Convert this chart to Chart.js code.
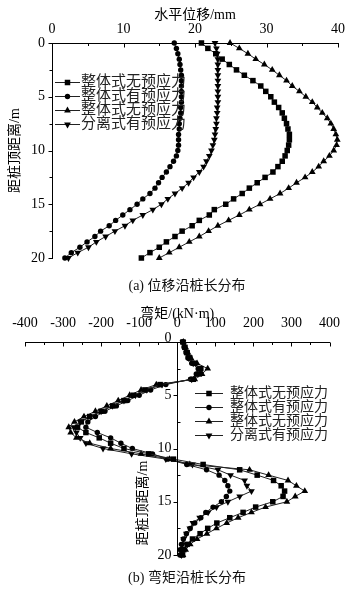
<!DOCTYPE html>
<html><head><meta charset="utf-8">
<script src="https://cdn.jsdelivr.net/npm/chart.js@4.4.1/dist/chart.umd.min.js"></script>
<style>
html,body{margin:0;padding:0;background:#fff;}
#wrap{position:relative;width:350px;height:590px;overflow:hidden;background:#fff;}
canvas{position:absolute;left:0;}
#ca{top:0;} #cb{top:295px;}
.cap{position:absolute;left:12px;width:350px;text-align:center;font-family:"Liberation Serif","Noto Sans CJK SC",serif;font-size:14px;color:#111;line-height:16px;}
</style></head><body>
<div id="wrap">
<canvas id="ca" width="350" height="295"></canvas>
<canvas id="cb" width="350" height="295"></canvas>
<div class="cap" style="top:278px">(a) 位移沿桩长分布</div>
<div class="cap" style="top:570px">(b) 弯矩沿桩长分布</div>
</div>
<script>
// ---------- data ----------
const depth = [0,0.5,1,1.5,2,2.5,3,3.5,4,4.5,5,5.5,6,6.5,7,7.5,8,8.5,9,9.5,10,10.5,11,11.5,12,12.5,13,13.5,14,14.5,15,15.5,16,16.5,17,17.5,18,18.5,19,19.5,20];
const seriesNames = ['整体式无预应力','整体式有预应力','整体式无预应力','分离式有预应力'];

// (a) horizontal displacement, mm
const dispS1 = [20.9,21.8,22.9,23.8,24.8,25.8,26.9,28.1,29.2,29.9,30.6,31.1,31.7,32.2,32.5,32.8,33.0,33.2,33.2,33.1,32.9,32.6,32.2,31.6,30.9,29.8,28.7,27.6,26.6,25.4,24.3,22.7,22.0,20.6,19.6,18.2,17.2,16.0,15.0,13.7,12.5];
const dispS2 = [17.1,17.4,17.6,17.8,17.9,18.0,18.1,18.1,18.1,18.1,18.1,18.1,18.0,18.0,17.9,17.8,17.8,17.7,17.7,17.7,17.6,17.4,17.0,16.5,16.0,15.4,14.9,14.4,13.7,12.7,11.9,10.9,9.9,8.9,8.0,6.8,6.0,4.9,3.9,2.7,1.8];
const dispS3 = [24.9,26.2,27.4,28.5,29.7,30.8,31.8,32.8,33.6,34.6,35.5,36.4,37.1,37.8,38.5,39.0,39.4,39.7,39.9,39.8,39.4,38.8,38.0,37.3,36.4,35.4,34.2,33.1,31.9,30.5,29.1,27.6,26.2,24.7,23.2,21.9,20.6,19.2,17.8,16.4,15.0];
const dispS4 = [22.8,23.0,23.1,23.2,23.2,23.2,23.2,23.2,23.2,23.2,23.2,23.2,23.1,23.1,23.0,23.0,22.9,22.8,22.7,22.5,22.3,22.0,21.6,21.2,20.6,19.8,19.1,18.2,17.2,16.2,15.3,14.1,12.7,11.3,10.2,8.8,7.5,6.2,5.1,3.6,2.3];

// (b) bending moment, kN·m
const momS1 = [15,20,26,33,45,62,58,42,-45,-85,-115,-140,-170,-200,-230,-252,-262,-240,-205,-175,-140,-75,-10,68,164,210,253,273,282,278,251,206,173,138,104,80,60,40,26,17,14];
const momS2 = [14,18,23,28,38,55,50,35,-30,-70,-100,-130,-160,-190,-215,-235,-240,-210,-175,-148,-118,-65,-25,25,77,110,125,133,138,129,116,94,75,62,46,34,24,16,11,8,7];
const momS3 = [16,22,28,36,52,80,65,46,-55,-95,-125,-155,-185,-215,-245,-270,-285,-280,-265,-230,-175,-95,-20,33,190,240,291,313,335,310,288,232,195,160,130,103,78,52,34,22,15];
const momS4 = [15,19,24,30,42,60,55,38,-40,-80,-110,-140,-170,-200,-228,-255,-272,-265,-255,-240,-195,-120,-30,40,107,140,177,183,195,164,133,103,81,59,41,33,24,17,14,11,11];

// tick values
const dispXTicks = [0,10,20,30,40];
const dispXMinor = [5,15,25,35];
const depthTicks = [0,5,10,15,20];
const depthMinor = [2.5,7.5,12.5,17.5];
const momXTicks = [-400,-300,-200,-100,0,100,200,300,400];
const momXMinor = [-350,-250,-150,-50,50,150,250,350];

// ---------- styling ----------
const FONT = '"Liberation Serif","Noto Sans CJK SC",serif';
const marks = [
  {pointStyle:'rect', rot:0, r:3.9},
  {pointStyle:'circle', rot:0, r:2.7},
  {pointStyle:'triangle', rot:0, r:3.9},
  {pointStyle:'triangle', rot:180, r:3.9}
];

function mkDatasets(series){
  return series.map((vals,i)=>({
    label: seriesNames[i],
    data: depth.map((d,j)=>({x: vals[j], y: d})),
    showLine: true,
    borderColor: '#222',
    borderWidth: 1,
    backgroundColor: '#000',
    pointBackgroundColor: '#000',
    pointBorderColor: '#000',
    pointBorderWidth: 0,
    pointStyle: marks[i].pointStyle,
    pointRotation: marks[i].rot,
    pointRadius: marks[i].r,
    tension: 0,
    clip: false
  }));
}

const deco = {
  id: 'deco',
  afterDraw(chart, args, o){
    const ctx = chart.ctx, xs = chart.scales.x, ys = chart.scales.y, ca = chart.chartArea;
    ctx.save();
    ctx.strokeStyle = '#000'; ctx.lineWidth = 1;
    const seg = (x1,y1,x2,y2)=>{ctx.beginPath();ctx.moveTo(x1,y1);ctx.lineTo(x2,y2);ctx.stroke();};
    const top = Math.round(ca.top)+0.5;
    o.xMajor.forEach(v=>{const p=Math.round(xs.getPixelForValue(v))+0.5; seg(p,top,p,top+4);});
    o.xMinor.forEach(v=>{const p=Math.round(xs.getPixelForValue(v))+0.5; seg(p,top,p,top+2.5);});
    const ax = Math.round(o.yAxisAt==null ? ca.left : xs.getPixelForValue(o.yAxisAt))+0.5;
    if (o.drawYAxis){
      seg(ax, Math.round(ys.getPixelForValue(ys.min)), ax, Math.round(ys.getPixelForValue(ys.max))+0.5);
    }
    o.yMajor.forEach(v=>{const p=Math.round(ys.getPixelForValue(v))+0.5; seg(ax-4,p,ax,p);});
    o.yMinor.forEach(v=>{const p=Math.round(ys.getPixelForValue(v))+0.5; seg(ax,p,ax+(o.minorRight?3:-3),p);});
    if (o.drawYAxis){
      ctx.fillStyle = '#000';
      ctx.font = '14px ' + FONT;
      ctx.textAlign = 'right'; ctx.textBaseline = 'middle';
      o.yMajor.forEach(v=>{ ctx.fillText(String(v), ax-6, ys.getPixelForValue(v) + (v===ys.min ? -4 : 0)); });
      ctx.save();
      ctx.translate(o.titlePos[0], o.titlePos[1]);
      ctx.rotate(-Math.PI/2);
      ctx.textAlign = 'center';
      ctx.fillText(o.yTitle, 0, 0);
      ctx.restore();
    }
    // legend
    const L = o.legend;
    ctx.font = L.size + 'px ' + FONT;
    ctx.textAlign = 'left'; ctx.textBaseline = 'middle';
    chart.data.datasets.forEach((ds,i)=>{
      const y = L.y + i*L.row;
      ctx.strokeStyle = '#222'; ctx.lineWidth = 1;
      seg(L.x, Math.round(y)+0.5, L.x+L.len, Math.round(y)+0.5);
      ctx.fillStyle = '#000';
      Chart.helpers.drawPoint(ctx, {pointStyle: ds.pointStyle, rotation: ds.pointRotation, radius: ds.pointRadius, borderWidth: 0}, L.x+L.len/2, Math.round(y)+0.5);
      ctx.fillStyle = '#222';
      ctx.fillText(ds.label, L.textX, y+0.5);
    });
    ctx.restore();
  }
};

function setTicks(arr){ return s => { s.ticks = arr.map(v=>({value:v})); }; }

// ---------- chart (a) ----------
new Chart(document.getElementById('ca'), {
  type: 'scatter',
  data: { datasets: mkDatasets([dispS1, dispS2, dispS3, dispS4]) },
  options: {
    responsive: false, animation: false, events: [],
    layout: { padding: { left: 0, top: 0, right: 11, bottom: 37 } },
    plugins: {
      legend: { display: false }, tooltip: { enabled: false },
      deco: { xMajor: dispXTicks, xMinor: dispXMinor, yMajor: depthTicks, yMinor: depthMinor, yAxisAt: null, drawYAxis: false, minorRight: false,
              legend: { x: 55, len: 25, textX: 81, y: 82, row: 14, size: 15 } }
    },
    scales: {
      x: {
        type: 'linear', position: 'top', min: 0, max: 40,
        afterBuildTicks: setTicks(dispXTicks),
        afterFit: s => { s.height = 43; },
        grid: { display: false, drawTicks: false },
        border: { display: true, color: '#000', width: 1 },
        ticks: { font: { family: FONT, size: 14 }, color: '#000', padding: 5, maxRotation: 0, autoSkip: false },
        title: { display: true, text: '水平位移/mm', font: { family: FONT, size: 14 }, color: '#000', padding: { top: 7, bottom: 0 } }
      },
      y: {
        type: 'linear', position: 'left', reverse: true, min: 0, max: 20,
        afterBuildTicks: setTicks(depthTicks),
        afterFit: s => { s.width = 52; },
        grid: { display: false, drawTicks: false },
        border: { display: true, color: '#000', width: 1 },
        ticks: { font: { family: FONT, size: 14 }, color: '#000', padding: 7, autoSkip: false },
        title: { display: true, text: '距桩顶距离/m', font: { family: FONT, size: 14 }, color: '#000', padding: { top: 7, bottom: 0 } }
      }
    }
  },
  plugins: [deco]
});

// ---------- chart (b) ----------
new Chart(document.getElementById('cb'), {
  type: 'scatter',
  data: { datasets: mkDatasets([momS1, momS2, momS3, momS4]) },
  options: {
    responsive: false, animation: false, events: [],
    layout: { padding: { left: 25, top: 0, right: 20, bottom: 35 } },
    plugins: {
      legend: { display: false }, tooltip: { enabled: false },
      deco: { xMajor: momXTicks, xMinor: momXMinor, yMajor: depthTicks, yMinor: depthMinor, yAxisAt: 0, drawYAxis: true, minorRight: true,
              yTitle: '距桩顶距离/m', titlePos: [143, 208],
              legend: { x: 195, len: 28, textX: 230, y: 98, row: 14, size: 14 } }
    },
    scales: {
      x: {
        type: 'linear', position: 'top', min: -400, max: 400,
        afterBuildTicks: setTicks(momXTicks),
        afterFit: s => { s.height = 47; },
        grid: { display: false, drawTicks: false },
        border: { display: true, color: '#000', width: 1 },
        ticks: { font: { family: FONT, size: 14 }, color: '#000', padding: 10, maxRotation: 0, autoSkip: false },
        title: { display: true, text: '弯矩/(kN·m)', font: { family: FONT, size: 14 }, color: '#000', padding: { top: 11, bottom: 0 } }
      },
      y: {
        type: 'linear', display: false, reverse: true, min: 0, max: 20
      }
    }
  },
  plugins: [deco]
});
</script>
</body></html>
